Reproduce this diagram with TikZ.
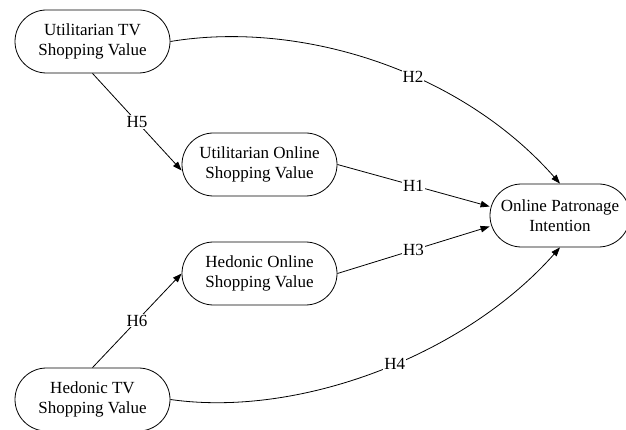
\documentclass[tikz,border=0pt]{standalone}
\usepackage{fontspec}
\setmainfont{Liberation Serif}
\usetikzlibrary{arrows.meta}
\tikzset{
  box/.style={draw, line width=0.8pt, rectangle, rounded corners=31.5pt,
    minimum width=155pt, minimum height=63pt, inner sep=0pt, align=center,
    font=\fontsize{17pt}{20pt}\selectfont},
  conn/.style={line width=0.8pt, -{Triangle[length=9pt,width=6.5pt]}},
  hlab/.style={fill=white, inner sep=1pt, font=\fontsize{17pt}{20pt}\selectfont}
}
\begin{document}
\begin{tikzpicture}[x=1pt, y=-1pt]
\useasboundingbox (0,0) rectangle (626,430);
\node[box] (utv) at (92.5,41.5) {Utilitarian TV\\Shopping Value};
\node[box] (uos) at (259.5,164.5) {Utilitarian Online\\Shopping Value};
\node[box] (hos) at (259.5,273.5) {Hedonic Online\\Shopping Value};
\node[box] (htv) at (92.5,399.5) {Hedonic TV\\Shopping Value};
\node[box, minimum width=140pt] (opi) at (560,215.5) {Online Patronage\\Intention};

\draw[conn] (utv.south) -- node[hlab] {H5} ([yshift=-6pt]uos.west);
\draw[conn] (htv.north) -- node[hlab] {H6} (hos.west);
\draw[conn] (uos.east) -- node[hlab] {H1} ([yshift=9pt]opi.west);
\draw[conn] (hos.east) -- node[hlab] {H3} ([yshift=-11pt]opi.west);
\draw[conn] (utv.east) .. controls (300,20) and (460,70) .. node[hlab, pos=0.59] {H2} (opi.north);
\draw[conn] (htv.east) .. controls (300,418) and (465,355) .. node[hlab, pos=0.54] {H4} (opi.south);
\end{tikzpicture}
\end{document}
